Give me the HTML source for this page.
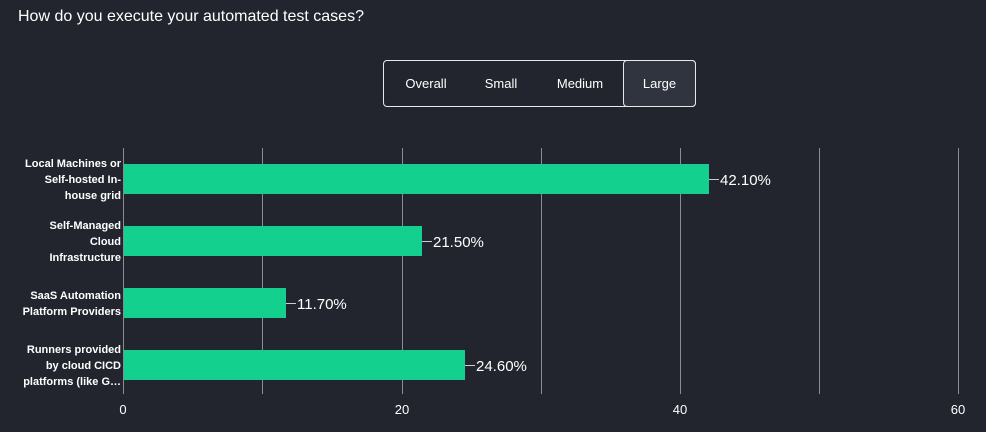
<!DOCTYPE html>
<html><head><style>
body{margin:0;width:986px;height:432px;background:#22252e;font-family:"Liberation Sans",sans-serif;color:#fff;overflow:hidden;position:relative}
.t{position:absolute;left:18px;top:8px;font-size:16px}
.tog{position:absolute;left:383px;top:60px;width:311px;height:45px;border:1px solid #e8e8e8;border-radius:4px;box-sizing:content-box}
.b{position:absolute;top:0;height:45px;line-height:45px;font-size:13px;text-align:center}
.lg{left:239px;width:71px;background:#30343e;border:1px solid #e8e8e8;border-radius:4px;top:-1px;height:45px}
</style></head><body>
<div class="t">How do you execute your automated test cases?</div>
<div class="tog">
<div class="b" style="left:8px;width:68px">Overall</div>
<div class="b" style="left:84px;width:66px">Small</div>
<div class="b" style="left:160px;width:72px">Medium</div>
<div class="b lg">Large</div>
</div>
<svg width="986" height="432" style="position:absolute;left:0;top:0" font-family="Liberation Sans, sans-serif">
<g stroke="#8a8d95" stroke-width="1">
<line x1="123.5" y1="148" x2="123.5" y2="394"/>
<line x1="262.5" y1="148" x2="262.5" y2="394"/>
<line x1="402.5" y1="148" x2="402.5" y2="394"/>
<line x1="541.5" y1="148" x2="541.5" y2="394"/>
<line x1="680.5" y1="148" x2="680.5" y2="394"/>
<line x1="819.5" y1="148" x2="819.5" y2="394"/>
<line x1="958.5" y1="148" x2="958.5" y2="394"/>
</g>
<g fill="#13d08f">
<rect x="124" y="164" width="585" height="30"/>
<rect x="124" y="226" width="298" height="30"/>
<rect x="124" y="288" width="162" height="30"/>
<rect x="124" y="350" width="341" height="30"/>
</g>
<g stroke="#ccc"><line x1="709" y1="179.5" x2="719" y2="179.5"/><line x1="422" y1="241.5" x2="432" y2="241.5"/><line x1="286" y1="303.5" x2="296" y2="303.5"/><line x1="465" y1="365.5" x2="475" y2="365.5"/></g>
<g fill="#fff" font-size="15">
<text x="720" y="185">42.10%</text><text x="433" y="247">21.50%</text><text x="297" y="309">11.70%</text><text x="476" y="371">24.60%</text>
</g>
<g fill="#fff" font-size="11" font-weight="bold" text-anchor="end">
<text x="121" y="167">Local Machines or</text><text x="121" y="183">Self-hosted In-</text><text x="121" y="199">house grid</text>
<text x="121" y="229">Self-Managed</text><text x="121" y="245">Cloud</text><text x="121" y="261">Infrastructure</text>
<text x="121" y="299">SaaS Automation</text><text x="121" y="315">Platform Providers</text>
<text x="121" y="353">Runners provided</text><text x="121" y="369">by cloud CICD</text><text x="121" y="385">platforms (like G…</text>
</g>
<g fill="#fff" font-size="13" text-anchor="middle">
<text x="123" y="414">0</text><text x="402" y="414">20</text><text x="680" y="414">40</text><text x="958" y="414">60</text>
</g>
</svg>
</body></html>
